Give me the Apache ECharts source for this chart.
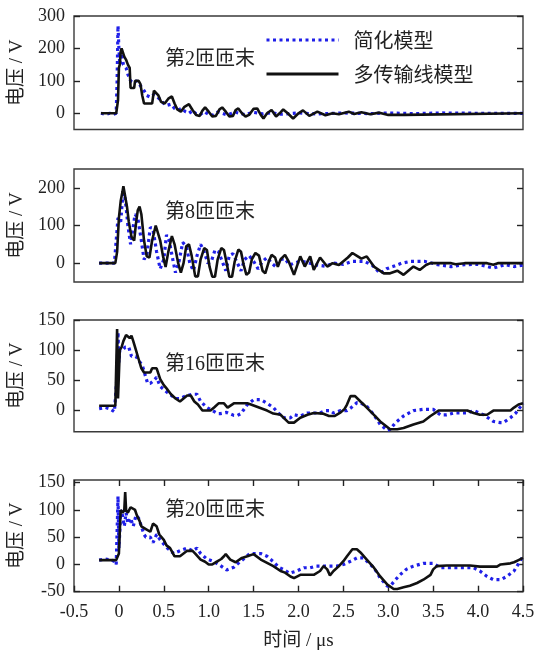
<!DOCTYPE html>
<html>
<head>
<meta charset="utf-8">
<script src="https://cdn.jsdelivr.net/npm/echarts@6/dist/echarts.min.js"></script>
<style>
  html, body { margin: 0; padding: 0; background: #fff; }
  #chart { width: 539px; height: 656px; }
</style>
</head>
<body>
<div id="chart"></div>
<script>
// Voltage at the end of turns 2, 8, 16 and 20: simplified model vs. multi-conductor line model
// Each series is a list of [time (µs), voltage (V)] pairs.

const timeTicks = [-0.5, 0, 0.5, 1.0, 1.5, 2.0, 2.5, 3.0, 3.5, 4.0, 4.5];
const panelTitles = ['第2匝匝末', '第8匝匝末', '第16匝匝末', '第20匝匝末'];
const seriesNames = ['简化模型', '多传输线模型'];

const p1Ticks = [0, 100, 200, 300];
const p2Ticks = [0, 100, 200];
const p3Ticks = [0, 50, 100, 150];
const p4Ticks = [-50, 0, 50, 100, 150];

// turn 2
const p1Simple = [[-0.2,0],[-0.15,-3],[-0.1,0],[-0.06,-3],[-0.03,0],[-0.02,100],[-0.01,270],[0.00,200],[0.01,150],[0.03,185],[0.05,150],[0.08,140],[0.10,120],[0.13,100],[0.16,95],[0.20,100],[0.24,85],[0.28,70],[0.31,55],[0.35,50],[0.39,58],[0.43,50],[0.47,40],[0.50,30],[0.54,25],[0.58,28],[0.62,15],[0.66,10],[0.70,15],[0.74,5],[0.78,0],[0.82,8],[0.86,-2],[0.90,-5],[0.95,5],[1.00,-3],[1.05,-6],[1.10,4],[1.15,0],[1.20,-5],[1.30,3],[1.40,-4],[1.50,3],[1.60,-2],[1.70,2],[1.80,-3],[2.00,1],[2.20,-2],[2.50,1],[2.80,-1],[3.00,1],[3.30,-1],[3.60,1],[4.00,0],[4.50,0]];
const p1Multi = [[-0.2,0],[-0.03,0],[-0.01,40],[0.00,140],[0.01,150],[0.02,190],[0.03,200],[0.05,195],[0.06,175],[0.08,165],[0.10,150],[0.12,140],[0.13,78],[0.17,78],[0.18,100],[0.22,100],[0.24,90],[0.26,55],[0.28,30],[0.37,30],[0.39,70],[0.41,75],[0.44,55],[0.47,35],[0.51,30],[0.55,45],[0.59,52],[0.62,30],[0.65,12],[0.69,5],[0.73,20],[0.78,28],[0.82,10],[0.86,-5],[0.90,-8],[0.93,8],[0.96,18],[1.00,5],[1.04,-10],[1.08,-8],[1.12,12],[1.15,18],[1.19,5],[1.23,-10],[1.27,-8],[1.30,10],[1.33,15],[1.37,0],[1.41,-10],[1.45,-5],[1.50,14],[1.54,15],[1.58,-5],[1.61,-16],[1.65,0],[1.70,10],[1.75,-10],[1.79,0],[1.83,12],[1.88,0],[1.94,-16],[2.00,0],[2.05,9],[2.12,-8],[2.21,5],[2.30,-6],[2.38,0],[2.45,-3],[2.56,5],[2.62,-2],[2.70,3],[2.80,-3],[2.90,2],[3.00,-5],[3.18,-5],[3.20,0],[4.50,0]];

// turn 8
const p2Simple = [[-0.22,0],[-0.1,0],[-0.05,0],[-0.03,60],[-0.01,120],[0.02,110],[0.04,170],[0.06,185],[0.08,150],[0.10,100],[0.13,50],[0.15,55],[0.18,130],[0.21,120],[0.25,60],[0.28,10],[0.31,20],[0.35,95],[0.38,90],[0.42,30],[0.46,-15],[0.50,10],[0.53,75],[0.56,60],[0.60,10],[0.63,-25],[0.67,5],[0.71,55],[0.75,45],[0.79,0],[0.83,-20],[0.87,20],[0.91,50],[0.95,30],[0.99,0],[1.03,5],[1.07,35],[1.11,30],[1.15,5],[1.19,-20],[1.23,20],[1.27,25],[1.32,0],[1.36,-20],[1.40,10],[1.45,20],[1.50,5],[1.55,-15],[1.60,5],[1.65,15],[1.70,0],[1.75,-10],[1.80,10],[1.85,12],[1.90,-5],[1.95,0],[2.02,5],[2.10,2],[2.20,-5],[2.30,-8],[2.40,0],[2.50,-3],[2.60,5],[2.73,5],[2.82,-5],[2.91,-27],[2.98,-15],[3.05,-9],[3.15,0],[3.25,5],[3.40,5],[3.55,-4],[3.70,-9],[3.85,-4],[4.00,-3],[4.17,-13],[4.30,-4],[4.40,-9],[4.50,-5]];
const p2Multi = [[-0.22,0],[-0.04,0],[-0.02,30],[0.00,120],[0.02,165],[0.04,190],[0.05,204],[0.07,200],[0.09,150],[0.11,110],[0.14,70],[0.17,60],[0.19,105],[0.21,140],[0.23,150],[0.25,130],[0.28,60],[0.31,18],[0.34,15],[0.37,60],[0.41,100],[0.43,103],[0.46,60],[0.49,20],[0.52,-10],[0.55,30],[0.59,72],[0.62,50],[0.66,0],[0.69,-25],[0.72,0],[0.75,45],[0.78,50],[0.81,20],[0.85,-35],[0.88,-35],[0.91,10],[0.95,40],[0.98,35],[1.01,-10],[1.04,-36],[1.07,-36],[1.10,10],[1.14,40],[1.17,35],[1.20,0],[1.23,-36],[1.26,-36],[1.29,5],[1.33,36],[1.36,30],[1.39,-5],[1.42,-31],[1.45,-25],[1.48,10],[1.52,27],[1.56,20],[1.60,-20],[1.63,-27],[1.67,5],[1.70,22],[1.74,15],[1.77,-10],[1.80,10],[1.85,22],[1.89,5],[1.95,-31],[1.98,-10],[2.02,18],[2.07,-9],[2.13,18],[2.17,-18],[2.24,15],[2.32,-9],[2.38,0],[2.45,-5],[2.50,5],[2.55,15],[2.60,27],[2.66,18],[2.70,12],[2.76,18],[2.84,-9],[2.95,-27],[3.02,-27],[3.10,-20],[3.17,-31],[3.28,-9],[3.35,-18],[3.42,-5],[3.47,0],[3.70,0],[3.75,-3],[3.85,0],[4.10,0],[4.17,-4],[4.22,0],[4.50,0]];

// turn 16
const p3Simple = [[-0.22,3],[-0.15,5],[-0.10,3],[-0.05,-2],[-0.03,0],[-0.02,60],[-0.01,130],[0.00,80],[0.01,100],[0.04,100],[0.07,105],[0.11,105],[0.14,90],[0.19,90],[0.21,85],[0.26,75],[0.30,55],[0.32,45],[0.35,45],[0.39,50],[0.42,55],[0.46,40],[0.54,30],[0.63,20],[0.68,20],[0.76,25],[0.82,27],[0.87,27],[0.91,15],[0.98,5],[1.10,-5],[1.13,-5],[1.20,-3],[1.28,-8],[1.32,-8],[1.36,-5],[1.43,10],[1.50,18],[1.58,18],[1.65,12],[1.72,5],[1.78,-5],[1.84,-12],[1.91,-12],[1.95,-7],[2.02,-9],[2.10,-4],[2.24,-4],[2.30,0],[2.35,0],[2.39,-4],[2.47,0],[2.54,0],[2.58,4],[2.65,13],[2.69,13],[2.76,7],[2.84,-7],[2.91,-23],[2.99,-33],[3.02,-31],[3.08,-20],[3.17,-9],[3.28,0],[3.39,2],[3.50,2],[3.58,-7],[3.65,-7],[3.73,-4],[3.88,-4],[3.95,0],[4.06,-7],[4.17,-18],[4.25,-20],[4.28,-20],[4.36,-12],[4.42,-4],[4.50,12]];
const p3Multi = [[-0.22,8],[-0.04,8],[-0.03,5],[-0.02,135],[-0.01,20],[0.00,60],[0.01,100],[0.03,105],[0.05,115],[0.08,125],[0.10,127],[0.12,120],[0.14,124],[0.16,115],[0.19,100],[0.22,85],[0.25,70],[0.28,63],[0.35,63],[0.37,70],[0.42,70],[0.46,52],[0.50,42],[0.54,35],[0.58,27],[0.63,20],[0.68,15],[0.72,20],[0.76,25],[0.80,25],[0.84,15],[0.88,10],[0.93,0],[1.02,0],[1.06,5],[1.11,12],[1.17,12],[1.21,5],[1.28,12],[1.43,12],[1.47,10],[1.56,5],[1.65,0],[1.72,-5],[1.80,-7],[1.89,-20],[1.95,-20],[2.02,-12],[2.10,-7],[2.17,-4],[2.27,-5],[2.34,-9],[2.40,-9],[2.47,-3],[2.51,2],[2.54,10],[2.58,24],[2.63,24],[2.69,15],[2.76,5],[2.84,-7],[2.91,-18],[3.02,-31],[3.10,-31],[3.17,-29],[3.28,-23],[3.39,-18],[3.47,-9],[3.56,0],[3.88,0],[3.95,-4],[4.02,-7],[4.10,-7],[4.17,0],[4.36,0],[4.40,5],[4.45,10],[4.50,12]];

// turn 20
const p4Simple = [[-0.22,8],[-0.15,10],[-0.08,8],[-0.04,5],[-0.03,0],[-0.02,60],[-0.01,125],[0.00,30],[0.01,60],[0.02,100],[0.04,90],[0.06,70],[0.08,95],[0.10,75],[0.13,85],[0.16,70],[0.19,90],[0.22,85],[0.24,75],[0.28,55],[0.30,50],[0.35,50],[0.38,40],[0.42,55],[0.46,45],[0.54,30],[0.61,20],[0.68,25],[0.76,30],[0.82,25],[0.87,30],[0.91,20],[0.98,10],[1.06,5],[1.13,-2],[1.20,-10],[1.28,-5],[1.35,5],[1.46,20],[1.58,20],[1.65,15],[1.72,5],[1.78,-5],[1.84,-10],[1.90,-16],[1.98,-12],[2.06,-6],[2.13,-6],[2.20,-3],[2.28,-3],[2.35,-3],[2.43,-3],[2.50,0],[2.58,6],[2.65,12],[2.72,12],[2.76,6],[2.84,-6],[2.91,-25],[2.99,-40],[3.02,-40],[3.08,-28],[3.13,-19],[3.20,-9],[3.28,-3],[3.39,2],[3.50,2],[3.58,-6],[3.65,-6],[3.87,-6],[3.95,-6],[4.02,-12],[4.10,-22],[4.17,-28],[4.25,-28],[4.32,-22],[4.40,-12],[4.50,15]];
const p4Multi = [[-0.22,8],[-0.03,8],[-0.01,10],[0.00,20],[0.01,60],[0.02,100],[0.04,95],[0.06,100],[0.07,133],[0.08,100],[0.10,95],[0.13,105],[0.15,108],[0.18,100],[0.20,90],[0.23,80],[0.25,70],[0.30,65],[0.35,60],[0.38,75],[0.42,70],[0.45,55],[0.50,45],[0.53,35],[0.57,30],[0.62,15],[0.68,15],[0.72,20],[0.76,25],[0.82,25],[0.85,20],[0.91,9],[0.96,5],[1.00,0],[1.04,0],[1.10,6],[1.14,10],[1.17,15],[1.19,19],[1.24,9],[1.30,4],[1.37,12],[1.43,15],[1.50,19],[1.58,9],[1.65,3],[1.72,-3],[1.80,-12],[1.85,-15],[1.91,-22],[1.95,-25],[2.02,-19],[2.10,-19],[2.17,-19],[2.24,-12],[2.28,-3],[2.30,-3],[2.32,-9],[2.35,-20],[2.39,-12],[2.45,-3],[2.50,6],[2.54,15],[2.60,28],[2.65,28],[2.69,22],[2.76,9],[2.84,-6],[2.91,-22],[2.99,-37],[3.06,-45],[3.10,-45],[3.17,-42],[3.24,-39],[3.32,-34],[3.39,-28],[3.47,-19],[3.50,-9],[3.54,-3],[3.65,-2],[3.91,-2],[4.02,-4],[4.21,-4],[4.25,0],[4.36,2],[4.40,4],[4.45,8],[4.50,12]];

const panels = [
  { simple: p1Simple, multi: p1Multi, ticks: p1Ticks, min: -50, max: 300, top: 16, height: 113.5, labelTop: 50 },
  { simple: p2Simple, multi: p2Multi, ticks: p2Ticks, min: -50, max: 250, top: 169, height: 113, labelTop: 203 },
  { simple: p3Simple, multi: p3Multi, ticks: p3Ticks, min: -35, max: 150, top: 320, height: 111.7, labelTop: 355 },
  { simple: p4Simple, multi: p4Multi, ticks: p4Ticks, min: -50, max: 155, top: 480, height: 111.7, labelTop: 501 }
];

const SERIF = "'Liberation Serif', 'Noto Sans CJK SC', serif";
const CJK = "'Noto Sans CJK SC', 'Liberation Serif', sans-serif";
const INK = '#222';
const FRAME = '#3a3a3a';
const BLUE = '#1f1fe8';
const GRID_LEFT = 73.4;
const GRID_RIGHT = 16;

const tickStyle = { color: '#222', width: 1.4 };
const TICK_LEN = 6;
const grid = [], xAxis = [], yAxis = [], series = [], graphic = [];

panels.forEach((p, i) => {
  const isLast = i === panels.length - 1;
  grid.push({
    left: GRID_LEFT, right: GRID_RIGHT, top: p.top, height: p.height,
    show: true, borderColor: FRAME, borderWidth: 1.4, backgroundColor: 'transparent'
  });

  // bottom time axis
  xAxis.push({
    type: 'value', gridIndex: i, min: -0.5, max: 4.5, interval: 0.5, position: 'bottom',
    axisLine: { show: false, onZero: false },
    splitLine: { show: false },
    axisTick: { show: isLast, inside: true, length: TICK_LEN, lineStyle: tickStyle, customValues: timeTicks },
    axisLabel: {
      show: isLast, customValues: timeTicks, margin: 12,
      fontFamily: SERIF, fontSize: 18, color: INK,
      formatter: v => (v === 0 ? '0' : v.toFixed(1))
    },
    name: isLast ? '时间 / μs' : '',
    nameLocation: 'middle', nameGap: 40,
    nameTextStyle: { fontFamily: SERIF, fontSize: 19, color: INK }
  });
  // mirrored ticks along the top edge of the last panel
  xAxis.push({
    type: 'value', gridIndex: i, min: -0.5, max: 4.5, interval: 0.5, position: 'top',
    axisLine: { show: false, onZero: false }, splitLine: { show: false }, axisLabel: { show: false },
    axisTick: { show: isLast, inside: true, length: TICK_LEN, lineStyle: tickStyle, customValues: timeTicks }
  });

  // left voltage axis
  yAxis.push({
    type: 'value', gridIndex: i, min: p.min, max: p.max, position: 'left',
    axisLine: { show: false, onZero: false }, splitLine: { show: false },
    axisTick: { show: true, inside: true, length: TICK_LEN, lineStyle: tickStyle, customValues: p.ticks },
    axisLabel: { customValues: p.ticks, margin: 9, fontFamily: SERIF, fontSize: 18, color: INK },
    name: '电压 / V', nameLocation: 'middle', nameRotate: 90, nameGap: 47,
    nameTextStyle: { fontFamily: SERIF, fontSize: 19, color: INK }
  });
  // mirrored ticks on the right edge
  yAxis.push({
    type: 'value', gridIndex: i, min: p.min, max: p.max, position: 'right',
    axisLine: { show: false, onZero: false }, splitLine: { show: false }, axisLabel: { show: false },
    axisTick: { show: true, inside: true, length: TICK_LEN, lineStyle: tickStyle, customValues: p.ticks }
  });

  series.push({
    name: seriesNames[0], type: 'line', xAxisIndex: 2 * i, yAxisIndex: 2 * i,
    data: p.simple, showSymbol: false, symbol: 'none', animation: false, z: 2,
    lineStyle: { color: BLUE, width: 3.2, type: [3, 3.5], cap: 'butt' },
    itemStyle: { color: BLUE }
  });
  series.push({
    name: seriesNames[1], type: 'line', xAxisIndex: 2 * i, yAxisIndex: 2 * i,
    data: p.multi, showSymbol: false, symbol: 'none', animation: false, z: 3,
    lineStyle: { color: '#111', width: 2.6 },
    itemStyle: { color: '#111' }
  });

  graphic.push({
    type: 'text', left: 165, top: p.labelTop, silent: true,
    style: { text: panelTitles[i], fontFamily: SERIF, fontSize: 20, fill: INK }
  });
});

const chart = echarts.init(document.getElementById('chart'), null, { renderer: 'canvas' });
chart.setOption({
  animation: false,
  backgroundColor: '#fff',
  grid, xAxis, yAxis, series, graphic,
  legend: {
    orient: 'vertical', left: 260, top: 24,
    itemWidth: 72, itemHeight: 14, itemGap: 12,
    selectedMode: false,
    data: seriesNames,
    itemStyle: { color: 'rgba(0,0,0,0)', borderWidth: 0 },
    lineStyle: { width: 3 },
    textStyle: { fontFamily: CJK, fontSize: 20, color: INK, lineHeight: 22, padding: [0, 0, 0, 10] }
  }
});
</script>
</body>
</html>
